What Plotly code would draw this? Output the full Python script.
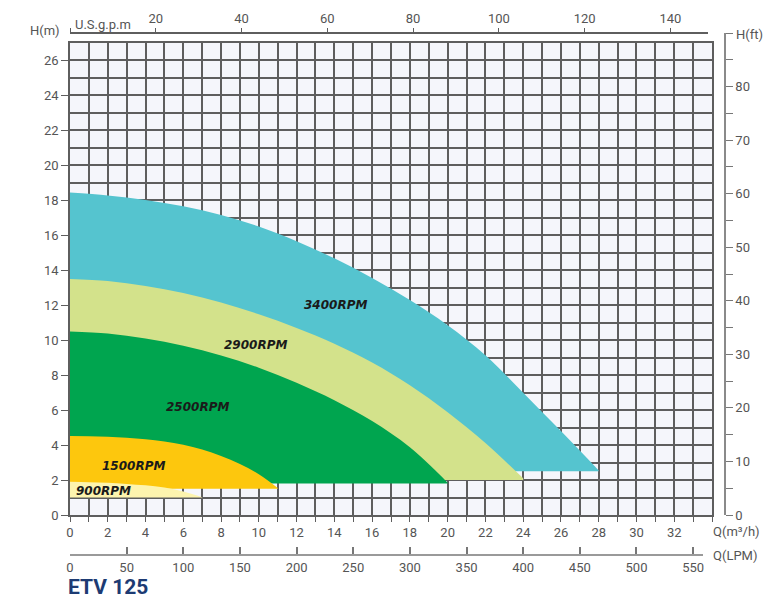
import plotly.graph_objects as go

# pump curves (Q in m3/h, H in m)
Q_3400 = [0, 2, 4, 6, 8, 10, 12, 14, 16, 18, 20, 22, 24, 26, 28]
H_3400 = [18.45, 18.28, 18.02, 17.66, 17.16, 16.5, 15.66, 14.68, 13.56, 12.3, 10.86,
          9.14, 7.0, 4.8, 2.55]
FLOOR_3400 = 2.5

Q_2900 = [0, 2, 4, 6, 8, 10, 12, 14, 16, 18, 20, 22, 24]
H_2900 = [13.5, 13.38, 13.1, 12.7, 12.16, 11.48, 10.7, 9.8, 8.72, 7.42, 5.88, 4.12, 2.1]
FLOOR_2900 = 2.0

Q_2500 = [0, 2, 4, 6, 8, 10, 12, 14, 16, 18, 20]
H_2500 = [10.5, 10.38, 10.1, 9.68, 9.12, 8.42, 7.57, 6.57, 5.37, 3.87, 1.85]
FLOOR_2500 = 1.8

Q_1500 = [0, 1, 2, 3, 4, 5, 6, 7, 8, 9, 10, 11]
H_1500 = [4.52, 4.51, 4.48, 4.42, 4.33, 4.2, 4.02, 3.75, 3.38, 2.92, 2.33, 1.55]
FLOOR_1500 = 1.5

Q_900 = [0, 1, 2, 3, 4, 5, 6, 7]
H_900 = [1.9, 1.88, 1.84, 1.78, 1.7, 1.58, 1.35, 1.02]
FLOOR_900 = 1.0

CURVES = [
    ("3400RPM", Q_3400, H_3400, FLOOR_3400, "#55c4cf", 14.05, 12.0),
    ("2900RPM", Q_2900, H_2900, FLOOR_2900, "#d3e28b", 9.85, 9.7),
    ("2500RPM", Q_2500, H_2500, FLOOR_2500, "#00a54f", 6.75, 6.15),
    ("1500RPM", Q_1500, H_1500, FLOOR_1500, "#fdc70d", 3.35, 2.8),
    ("900RPM", Q_900, H_900, FLOOR_900, "#fdf4ae", 1.8, 1.4),
]

Q_TICKS = list(range(0, 33, 2))
H_TICKS = list(range(0, 27, 2))
GPM_TICKS = [0, 20, 40, 60, 80, 100, 120, 140]
LPM_TICKS = [0, 50, 100, 150, 200, 250, 300, 350, 400, 450, 500, 550]
FT_TICKS = list(range(0, 91, 5))

# page geometry (pixels)
W, HGT = 784, 605
PL, PR, PT, PB = 70, 725, 33, 555
PLOT_R, PLOT_T, PLOT_B = 712, 43, 515
GPM_R, LPM_R = 708, 703

GRID = "#5e5e5e"
TXT = "#555555"
FONT = "Roboto"


def px(x, y):
    return (x - PL) / (PR - PL), (PB - y) / (PB - PT)


x_scale = (PLOT_R - PL) / 34.0
fig = go.Figure()

for name, q, h, floor, color, lx, ly in CURVES:
    # flat floor first, then the curve filled down to it
    fig.add_trace(go.Scatter(
        x=[0, q[-1]], y=[floor, floor], mode="lines",
        line=dict(width=0, color=color), hoverinfo="skip", showlegend=False,
    ))
    fig.add_trace(go.Scatter(
        x=q, y=h, fill="tonexty", fillcolor=color, mode="lines",
        line=dict(width=0, color=color, shape="spline", smoothing=1),
        hoverinfo="skip", showlegend=False,
    ))
    fig.add_annotation(
        x=lx, y=ly, text=name, showarrow=False,
        font=dict(family="DejaVu Sans", size=12, color="#1a1a1a",
                  weight="bold", style="italic"),
    )

# dummy traces so the secondary axes get drawn
fig.add_trace(go.Scatter(x=[None], y=[None], xaxis="x2", yaxis="y2",
                         showlegend=False, hoverinfo="skip"))
fig.add_trace(go.Scatter(x=[None], y=[None], xaxis="x3", yaxis="y2",
                         showlegend=False, hoverinfo="skip"))

xd = (PLOT_R - PL) / (PR - PL)
yd = [(PB - PLOT_B) / (PB - PT), (PB - PLOT_T) / (PB - PT)]

fig.update_layout(
    width=W, height=HGT,
    margin=dict(l=PL, r=W - PR, t=PT, b=HGT - PB, pad=0, autoexpand=False),
    paper_bgcolor="white", plot_bgcolor="rgba(0,0,0,0)",
    font=dict(family=FONT, size=13, color=TXT),
    xaxis=dict(
        domain=[0, xd], range=[0, 34], tickvals=Q_TICKS,
        showgrid=True, gridcolor=GRID, gridwidth=1.5,
        ticks="outside", ticklen=5, tickcolor=GRID, tickwidth=1.3,
        showline=True, linecolor=GRID, linewidth=1.5, mirror=True,
        minor=dict(tick0=0, dtick=1, showgrid=True, gridcolor=GRID, gridwidth=1.5,
                   ticks="outside", ticklen=5, tickcolor=GRID, tickwidth=1.3),
        zeroline=False, fixedrange=True,
    ),
    yaxis=dict(
        domain=yd, range=[0, 27], tickvals=H_TICKS,
        showgrid=True, gridcolor=GRID, gridwidth=1.5,
        ticks="outside", ticklen=7, tickcolor=GRID, tickwidth=1.3,
        showline=True, linecolor=GRID, linewidth=1.5, mirror=True,
        minor=dict(tick0=0, dtick=1, showgrid=True, gridcolor=GRID, gridwidth=1.5),
        zeroline=False, fixedrange=True,
    ),
    xaxis2=dict(
        domain=[0, (GPM_R - PL) / (PR - PL)], range=[0, (GPM_R - PL) / (x_scale * 0.22712)],
        anchor="free", position=1, side="top",
        tickvals=GPM_TICKS, ticktext=[""] + [str(v) for v in GPM_TICKS[1:]],
        ticks="outside", ticklen=4, tickcolor=GRID, tickwidth=1.3,
        showline=True, linecolor=GRID, linewidth=1.5, showgrid=False, zeroline=False,
        fixedrange=True,
    ),
    xaxis3=dict(
        domain=[0, (LPM_R - PL) / (PR - PL)], range=[0, (LPM_R - PL) / (x_scale * 0.06)],
        anchor="free", position=0, side="bottom",
        tickvals=LPM_TICKS, ticks="inside", ticklen=7, tickcolor="#777777", tickwidth=1.5,
        showline=True, linecolor="#9a9a9a", linewidth=2, showgrid=False, zeroline=False,
        fixedrange=True,
    ),
    yaxis2=dict(
        domain=[yd[0], 1], range=[0, 90], anchor="free", position=1, side="right",
        tickvals=FT_TICKS,
        ticktext=[str(v) if v % 10 == 0 and v < 90 else "" for v in FT_TICKS],
        ticks="outside", ticklen=7, tickcolor="#777777", tickwidth=1.3,
        showline=True, linecolor="#8a8a8a", linewidth=1.5, showgrid=False, zeroline=False,
        fixedrange=True,
    ),
    shapes=[dict(type="rect", xref="x domain", yref="y domain", x0=0, x1=1, y0=0, y1=1,
                 fillcolor="#f5f6fb", line=dict(width=0), layer="below")],
)

labels = [
    ("H(m)", 62, 31, "right", 13, TXT, "normal"),
    ("U.S.g.p.m", 73, 24, "left", 13, TXT, "normal"),
    ("H(ft)", 734, 34, "left", 13, TXT, "normal"),
    ("Q(m³/h)", 711, 531, "left", 13, TXT, "normal"),
    ("Q(LPM)", 711, 555, "left", 13, TXT, "normal"),
    ("ETV 125", 66, 587, "left", 21, "#1d3b73", "bold"),
]
for text, x, y, anchor, size, color, weight in labels:
    ax, ay = px(x, y)
    fig.add_annotation(
        x=ax, y=ay, xref="paper", yref="paper", text=text, showarrow=False,
        xanchor=anchor, yanchor="middle",
        font=dict(family=FONT, size=size, color=color, weight=weight),
    )

fig.write_html("out.html", config={"displayModeBar": False},
               post_script="document.body.style.margin='0';")
